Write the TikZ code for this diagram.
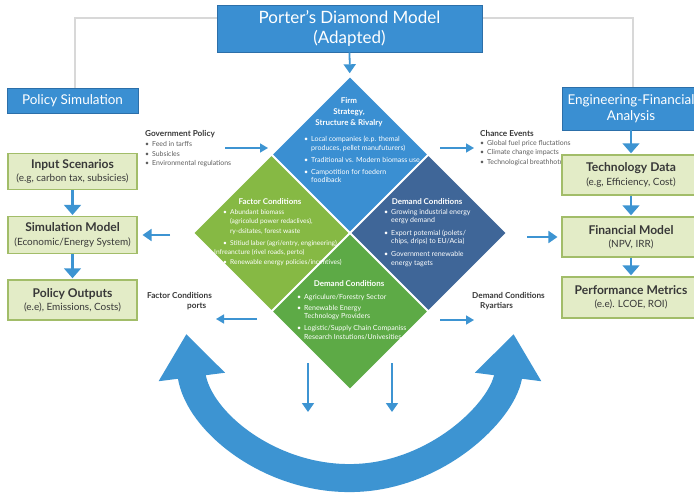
\documentclass[tikz,border=0pt]{standalone}
\usepackage{fontspec}
\setmainfont{Lato}
\usetikzlibrary{calc}
\usetikzlibrary{shapes}
\usetikzlibrary{positioning}
\usetikzlibrary{arrows.meta}

\definecolor{pblue}{HTML}{3A8FD2}
\definecolor{pblueline}{HTML}{2C6FA9}
\definecolor{pnavy}{HTML}{3F6698}
\definecolor{plime}{HTML}{86B944}
\definecolor{pgreen}{HTML}{5DAA46}
\definecolor{pbox}{HTML}{E3ECC7}
\definecolor{pboxline}{HTML}{A2BD69}
\definecolor{ptext}{HTML}{383838}
\definecolor{psoft}{HTML}{5E5E5E}
\definecolor{pframe}{HTML}{D8D8D8}
\definecolor{parrow}{HTML}{3D94D2}

\newcommand{\itm}{\textbullet\hspace{2.5pt}}
\newcommand{\cnt}{\hphantom{\textbullet}\hspace{2.5pt}}
\newcommand{\fs}[2]{\fontsize{#1}{#2}\selectfont}

\begin{document}
\begin{tikzpicture}[x=0.03cm,y=-0.03cm,
	  >={Triangle[width=0.36cm,length=0.27cm]},
	  blue box/.style={rectangle,draw=pblueline,line width=0.8pt,fill=pblue,text=white,inner sep=0pt,align=center},
	  green box/.style={rectangle,draw=pboxline,line width=0.9pt,fill=pbox,text=ptext,inner sep=0pt,align=center,
	    minimum height=1.1cm,font=\fs{8.5}{10.5}},
	  quad/.style={diamond,draw=white,line width=1.2pt,minimum width=4.71cm,minimum height=4.71cm,inner sep=0pt},
	  quad head/.style={text=white,font=\fs{6.8}{9.4}\bfseries,align=center,inner sep=0pt},
	  quad list/.style={text=white,font=\fs{6}{7.3},align=left,inner sep=0pt,anchor=north west},
	  side head/.style={text=ptext,font=\fs{7}{9}\bfseries,align=left,inner sep=0pt,anchor=north west},
	  side list/.style={text=psoft,font=\fs{5.9}{8.1},align=left,inner sep=0pt,anchor=north west},
	  link/.style={->,draw=parrow,line width=1.5pt},
	  small link/.style={-{Triangle[width=0.27cm,length=0.24cm]},draw=parrow,line width=1.3pt},
	  step link/.style={-{Triangle[width=0.5cm,length=0.3cm]},draw=parrow,line width=2.2pt,shorten >=1pt},
	  loop arrow/.style={{Triangle[width=1.92cm,length=1.3cm]}-{Triangle[width=1.92cm,length=1.3cm]},draw=parrow,line width=0.84cm}]

	 \useasboundingbox[fill=white] (0,0) rectangle (694,498);
	 \draw[pframe,line width=1.2pt] (75,88) -- (75,18) -- (633,18) -- (633,87);

	 % title and the four quadrants
	 \node[blue box,minimum width=7.95cm,minimum height=1.41cm,font=\fs{14.5}{17}] (title) at (349.5,28.5) {Porter's Diamond Model\\(Adapted)};
	 \coordinate (hub) at (350,233);
	 \node[quad,fill=pblue] (firm) at ($ (hub) + (0,-78.5) $) {};
	 \node[quad,fill=plime] (factor) at ($ (hub) + (-78.5,0) $) {};
	 \node[quad,fill=pnavy] (demand) at ($ (hub) + (78.5,0) $) {};
	 \node[quad,fill=pgreen] (related) at ($ (hub) + (0,78.5) $) {};
	 \draw[link,shorten >=2pt] (title) -- (firm);

	 \node[quad head,anchor=north] (firm head) at (349,97) {Firm\\Strategy,\\Structure \& Rivalry};
	 \node[quad list] (firm list) at (304,136) {\itm Local companies (e.p. themal\\
	   \cnt produces, pellet manufuturers)\\[3pt]
	   \itm Traditional vs. Modern biomass use\\[3pt]
	   \itm Campotition for foedern\\
	   \cnt foodiback};

	 \node[quad head] (factor head) at (270,202) {Factor Conditions};
	 \node[quad list,font=\fs{5.7}{8.2}] (factor list) at (223,209) {\itm Abundant biomass\\
	   \cnt (agricolud power redaclives),\\
	   \cnt ry-dsitates, forest waste\\[2pt]
	   \itm Stitiud laber (agri/entry, engineering)\\
	   \hspace*{-0.27cm}Infreancture (rivel roads, perto)\\
	   \itm Renewable energy policies/incentives)};

	 \node[quad head] (demand head) at (427,202) {Demand Conditions};
	 \node[quad list] (demand list) at (384,209) {\itm Growing industrial energy\\
	   \cnt eergy demand\\[3pt]
	   \itm Export potemial (polets/\\
	   \cnt chips, drips) to EU/Acia)\\[4pt]
	   \itm Government renewable\\
	   \cnt energy tagets};

	 \node[quad head] (related head) at (349,284) {Demand Conditions};
	 \node[quad list] (related list) at (297,294) {\itm Agriculure/Forestry Sector\\[2pt]
	   \itm Renewable Energy\\
	   \cnt Technology Providers\\[3pt]
	   \itm Logistic/Supply Chain Companiss\\
	   \cnt Research Instutions/Univesities};

	 % labels round the diamond
	 \node[side head] (gov head) at (145,130) {Government Policy};
	 \node[side list,below=3pt of gov head.south west,anchor=north west] (gov list) {\itm Feed in tarffs\\ \itm Subsicles\\ \itm Environmental regulations};
	 \node[side head] (chance head) at (480,130) {Chance Events};
	 \node[side list,below=3pt of chance head.south west,anchor=north west] (chance list) {\itm Global fuel price fluctations\\ \itm Climate change impacts\\ \itm Technological breathhotuws};
	 \node[side head] (ports) at (147,292) {Factor Conditions\\\hspace*{1.2cm}ports};
	 \node[side head] (ryart) at (472,292) {Demand Conditions\\\hspace*{0.24cm}Ryartiars};

	 \coordinate (gov out) at (225,148);
	 \coordinate (gov in) at (268,148);
	 \coordinate (chance out) at (440,148);
	 \coordinate (chance in) at (474,148);
	 \coordinate (ports out) at (257,319);
	 \coordinate (ports in) at (216,319);
	 \coordinate (ryart out) at (440,320);
	 \coordinate (ryart in) at (474,320);
	 \coordinate (drop a) at (308,363);
	 \coordinate (drop a end) at (308,412);
	 \coordinate (drop b) at (392,363);
	 \coordinate (drop b end) at (392,412);
	 \coordinate (sim out) at (170,235);
	 \coordinate (fin out) at (527,237);

	 % policy simulation column
	 \node[blue box,minimum width=3.93cm,minimum height=0.75cm,font=\fs{11.5}{13}] (polsim) at (72.5,100.5) {Policy Simulation};
	 \node[green box,minimum width=3.87cm] (inp) at (72.5,171.5) {{\fs{10.3}{12}\bfseries Input Scenarios}\\[1pt](e.g, carbon tax, subsicies)};
	 \node[green box,minimum width=3.87cm] (sim) at (72.5,235) {{\fs{10.3}{12}\bfseries Simulation Model}\\[1pt](Economic/Energy System)};
	 \node[green box,minimum width=3.87cm,minimum height=1.2cm] (out) at (72.5,300) {{\fs{10.3}{12}\bfseries Policy Outputs}\\[1pt](e.e), Emissions, Costs)};

	 % engineering-financial column
	 \node[blue box,minimum width=4.14cm,minimum height=1.29cm,font=\fs{11.5}{14}] (engfin) at (631,108.5) {Engineering-Financial\\Analysis};
	 \node[green box,minimum width=4.14cm,minimum height=1.2cm] (tech) at (631,175) {{\fs{10.3}{12}\bfseries Technology Data}\\[1pt](e.g, Efficiency, Cost)};
	 \node[green box,minimum width=4.14cm,minimum height=1.2cm] (fin) at (631,237) {{\fs{10.3}{12}\bfseries Financial Model}\\[1pt](NPV, IRR)};
	 \node[green box,minimum width=4.14cm,minimum height=1.23cm] (perf) at (631,297.5) {{\fs{10.3}{12}\bfseries Performance Metrics}\\[1pt](e.e). LCOE, ROI)};

	 \path[every edge/.style={step link}]
	    (inp) edge (sim)
	    (sim) edge (out)
	    (engfin.south -| tech) edge (tech)
	    (tech) edge (fin)
	    (fin) edge (perf);

	 \path[every edge/.style={small link}]
	    (gov out) edge (gov in)
	    (chance out) edge (chance in)
	    (ports out) edge (ports in)
	    (ryart out) edge (ryart in);
	 \path[every edge/.style={link}]
	    (sim out) edge[shorten >=0.15cm] (sim)
	    (fin out) edge[shorten >=0.12cm] (fin)
	    (drop a) edge (drop a end)
	    (drop b) edge (drop b end);

	 % feedback loop under the diamond
	 \draw[loop arrow] (186.3,334) arc[start angle=172.7,end angle=7.3,radius=165];
\end{tikzpicture}
\end{document}
